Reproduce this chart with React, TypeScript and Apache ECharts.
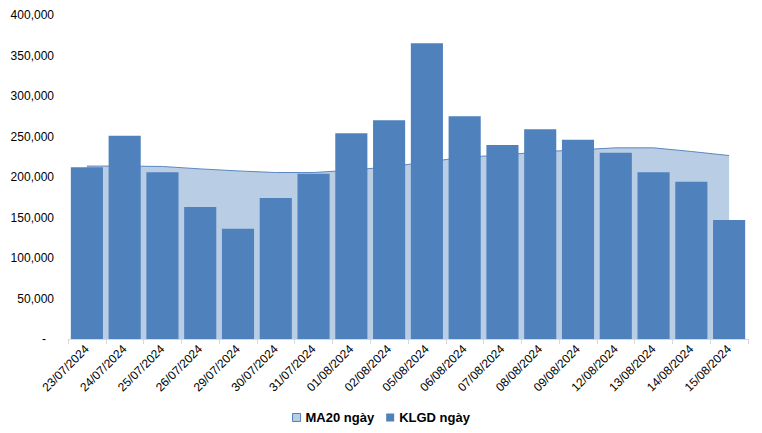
import React, { useEffect, useRef } from "react";
import * as echarts from "echarts";

const categories = [
  "23/07/2024", "24/07/2024", "25/07/2024", "26/07/2024", "29/07/2024", "30/07/2024",
  "31/07/2024", "01/08/2024", "02/08/2024", "05/08/2024", "06/08/2024", "07/08/2024",
  "08/08/2024", "09/08/2024", "12/08/2024", "13/08/2024", "14/08/2024", "15/08/2024",
];
const klgd = [
  212000, 251000, 206000, 163000, 136000, 174000, 204000, 254000, 270000, 365000,
  275000, 239500, 259000, 246000, 230000, 206000, 194000, 147000,
];
const ma20 = [
  213500, 213500, 213000, 210000, 207500, 205500, 205500, 208500, 212500, 218500,
  224500, 227000, 231000, 233500, 236000, 236000, 231500, 226500,
];
const yTicks = [0, 50000, 100000, 150000, 200000, 250000, 300000, 350000, 400000];

const FONT = "'Liberation Sans', Arial, sans-serif";

export default function App() {
  const ref = useRef<HTMLDivElement>(null);
  useEffect(() => {
    if (!ref.current) return;
    const chart = echarts.init(ref.current, undefined, { renderer: "svg" });
    chart.setOption({
      animation: false,
      textStyle: { fontFamily: FONT },
      grid: { left: 68, right: 14, top: 15, bottom: 94 },
      legend: {
        bottom: 4,
        left: "center",
        itemWidth: 8,
        itemHeight: 8,
        itemGap: 12,
        textStyle: { fontFamily: FONT, fontSize: 13, fontWeight: "bold", color: "#000" },
        data: [
          { name: "MA20 ngày", icon: "rect", itemStyle: { color: "#B9CDE5", borderColor: "#4F81BD", borderWidth: 1 } },
          { name: "KLGD ngày", icon: "rect", itemStyle: { color: "#4F81BD" } },
        ],
      },
      xAxis: {
        type: "category",
        data: categories,
        boundaryGap: true,
        axisLine: { lineStyle: { color: "#D9D9D9" } },
        axisTick: { show: true, alignWithLabel: false, length: 5, lineStyle: { color: "#D9D9D9" } },
        axisLabel: { rotate: 45, fontSize: 12, color: "#000", fontFamily: FONT, margin: 8, interval: 0 },
      },
      yAxis: {
        type: "value",
        min: yTicks[0],
        max: yTicks[yTicks.length - 1],
        interval: 50000,
        axisLine: { show: false },
        axisTick: { show: false },
        splitLine: { show: false },
        axisLabel: {
          fontSize: 12,
          color: "#000",
          fontFamily: FONT,
          margin: 14,
          formatter: (v: number) => (v === 0 ? "{z|-}" : v.toLocaleString("en-US")),
          rich: { z: { fontSize: 12, color: "#000", fontFamily: FONT, padding: [0, 8, 0, 0] } },
        },
      },
      series: [
        {
          name: "MA20 ngày",
          type: "line",
          data: ma20,
          symbol: "none",
          smooth: false,
          z: 1,
          lineStyle: { color: "#5B87C0", width: 1 },
          areaStyle: { color: "#B9CDE5", opacity: 1 },
          itemStyle: { color: "#B9CDE5", borderColor: "#4F81BD" },
        },
        {
          name: "KLGD ngày",
          type: "bar",
          data: klgd,
          barCategoryGap: "15%",
          z: 2,
          itemStyle: { color: "#4F81BD" },
        },
      ],
    });
    return () => chart.dispose();
  }, []);
  return <div ref={ref} style={{ width: 762, height: 433, margin: -8 }} />;
}
